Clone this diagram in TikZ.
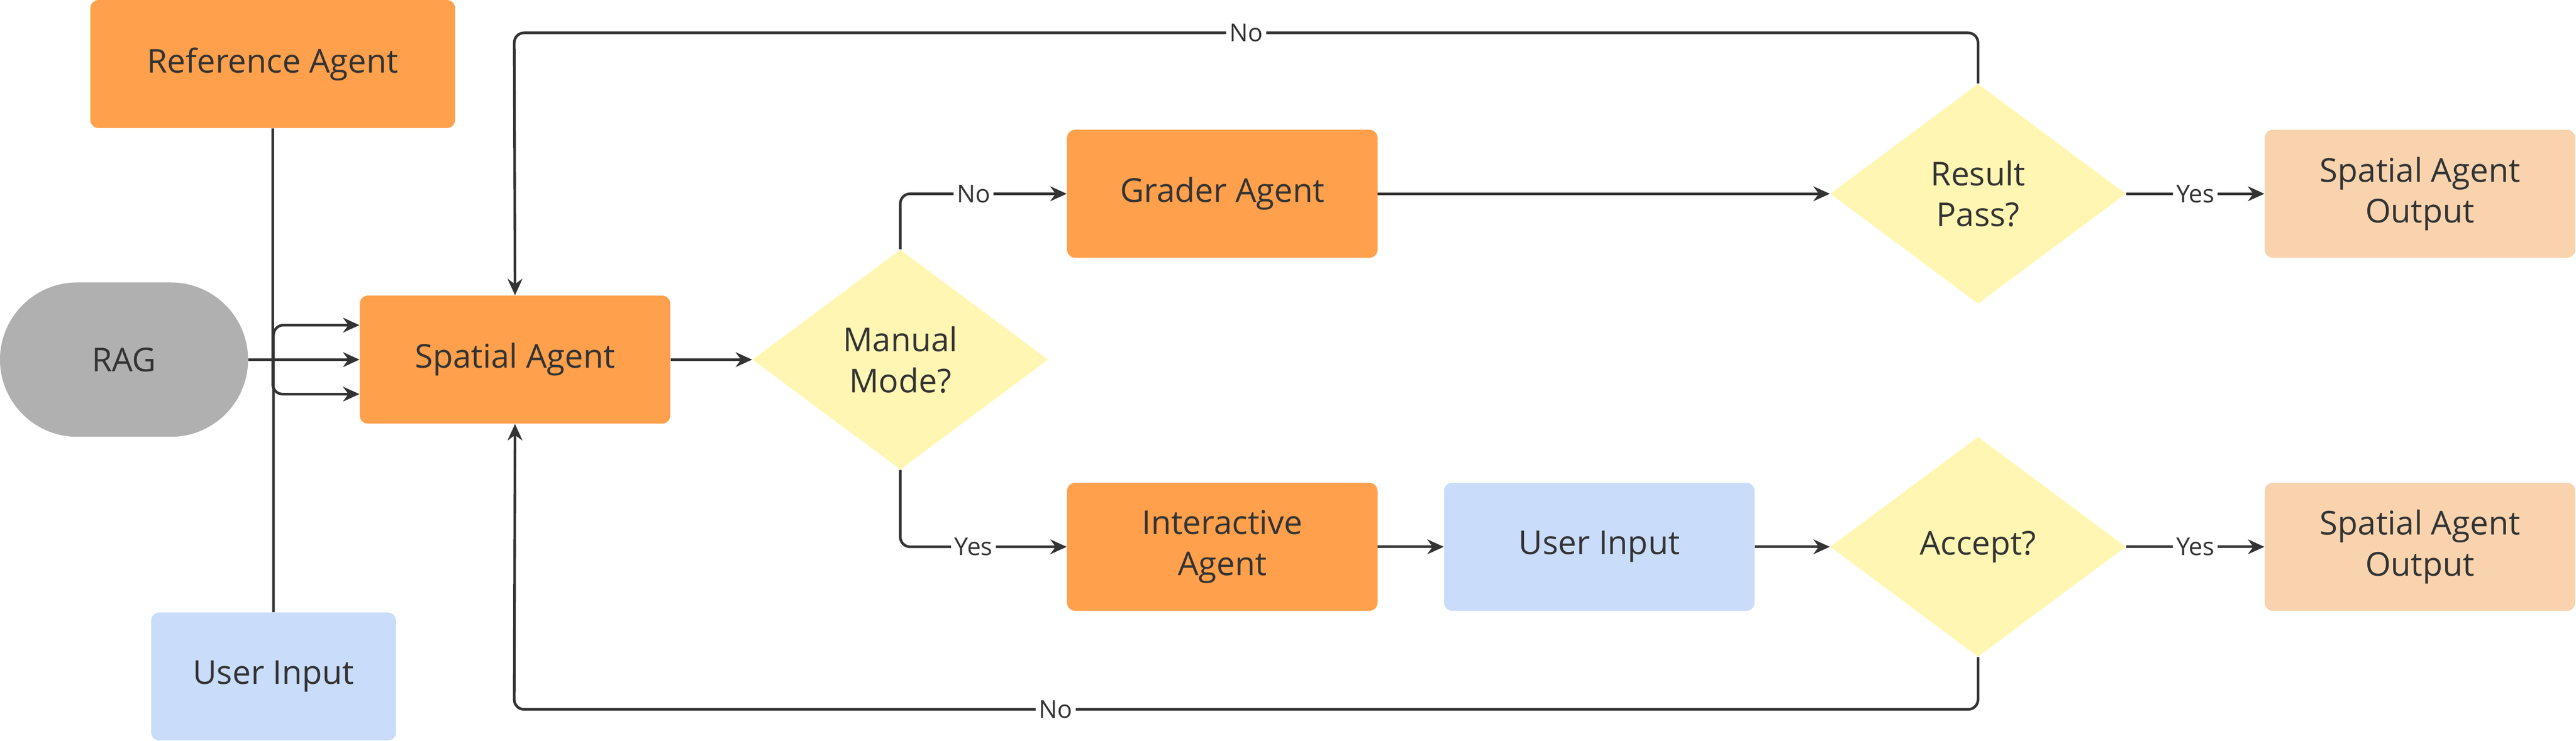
\documentclass[tikz,border=0pt]{standalone}
\usepackage{fontspec}
\setmainfont{Open Sans}
\usetikzlibrary{shapes.geometric,arrows.meta}
\definecolor{org}{HTML}{FFA04C}
\definecolor{gry}{HTML}{B0B0B0}
\definecolor{lbl}{HTML}{C9DCFA}
\definecolor{yel}{HTML}{FFF6B3}
\definecolor{pch}{HTML}{F8D3AE}
\definecolor{ink}{HTML}{333333}
\begin{document}
\begin{tikzpicture}[x=1pt,y=-1pt,
  box/.style={draw=none,rounded corners=5pt,minimum width=189pt,minimum height=78pt,align=center,text=ink,font=\fontsize{20}{25}\selectfont},
  dia/.style={diamond,draw=none,fill=yel,minimum width=180pt,minimum height=134pt,align=center,text=ink,font=\fontsize{20}{25}\selectfont},
  ar/.style={draw=ink,line width=1.6pt,-{Stealth[length=10pt,width=9pt]},rounded corners=6pt},
  lab/.style={fill=white,text=ink,font=\fontsize{15}{18}\selectfont,inner sep=2pt}]
\useasboundingbox (0,0) rectangle (1568,451);
\node[box,fill=org,minimum width=222pt] (ref) at (166,39) {Reference Agent};
\node[box,fill=gry,rounded corners=47pt,minimum width=151pt,minimum height=94pt] (rag) at (75.5,219) {RAG};
\node[box,fill=lbl,minimum width=149pt] (ui1) at (166.5,412) {User Input};
\node[box,fill=org] (sa) at (313.5,219) {Spatial Agent};
\node[dia] (mm) at (548,219) {Manual\\Mode?};
\node[box,fill=org] (ga) at (744,118) {Grader Agent};
\node[box,fill=org] (ia) at (744,333) {Interactive\\Agent};
\node[box,fill=lbl] (ui2) at (973.5,333) {User Input};
\node[dia] (rp) at (1204,118) {Result\\Pass?};
\node[dia] (ac) at (1204,333) {Accept?};
\node[box,fill=pch] (o1) at (1473,118) {Spatial Agent\\Output};
\node[box,fill=pch] (o2) at (1473,333) {Spatial Agent\\Output};
\coordinate (c1) at (166,198);
\coordinate (c2) at (166,240);
\draw[ar] (ref.south) |- ([yshift=-21pt]sa.west);
\draw[ar] (rag) -- (sa);
\draw[ar] (ui1.north) |- ([yshift=21pt]sa.west);
\draw[ar] (sa) -- (mm);
\draw[ar] (mm.north) |- node[lab,pos=0.72]{No} (ga.west);
\draw[ar] (mm.south) |- node[lab,pos=0.72]{Yes} (ia.west);
\draw[ar] (ga) -- (rp);
\draw[ar] (rp) -- node[lab]{Yes} (o1);
\draw[ar] (ia) -- (ui2);
\draw[ar] (ui2) -- (ac);
\draw[ar] (ac) -- node[lab]{Yes} (o2);
\coordinate (t1) at (1204,20);
\coordinate (t2) at (313,20);
\draw[ar] (rp.north) -- (t1) -- node[lab]{No} (t2) -- (sa.north);
\coordinate (b1) at (1204,432);
\coordinate (b2) at (313,432);
\draw[ar] (ac.south) -- (b1) -- node[lab,pos=0.63]{No} (b2) -- (sa.south);
\end{tikzpicture}
\end{document}
